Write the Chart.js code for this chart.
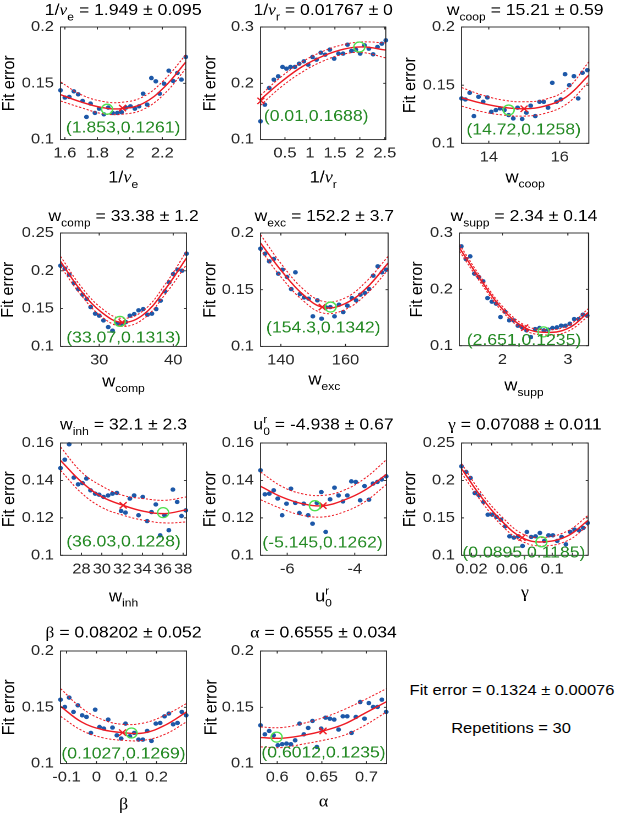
<!DOCTYPE html>
<html>
<head>
<meta charset="utf-8">
<script src="https://cdn.jsdelivr.net/npm/chart.js@4.4.1/dist/chart.umd.min.js"></script>
<style>
html, body { margin: 0; padding: 0; background: #fff; overflow: hidden; width: 617px; height: 815px; }
.panel { position: absolute; transform: scaleX(1.1); transform-origin: 0 0; }
.panel canvas { display: block; }
.note { position: absolute; white-space: nowrap; font: 15px "Liberation Sans", Arial, sans-serif; color: #000; transform: translate(-50%, -50%) scaleX(1.1); }
</style>
</head>
<body>
<div class="note" style="left:511.7px; top:689px;">Fit error = 0.1324 ± 0.00076</div>
<div class="note" style="left:511px; top:727px;">Repetitions = 30</div>
<script>
// ---- data ----
const p1X = [1.573,1.600,1.627,1.655,1.682,1.709,1.733,1.758,1.785,1.811,1.840,1.867,1.894,1.923,1.949,1.976,2.004,2.031,2.057,2.082,2.107,2.133,2.160,2.184,2.211,2.240,2.267,2.293,2.318,2.345];
const p1Y = [0.1438,0.1373,0.1379,0.1429,0.1402,0.1343,0.1201,0.1320,0.1237,0.1275,0.1225,0.1284,0.1237,0.1237,0.1243,0.1284,0.1296,0.1275,0.1296,0.1408,0.1311,0.1547,0.1518,0.1408,0.1497,0.1612,0.1521,0.1592,0.1533,0.1734];
const p1FitX = [1.573,1.70,1.83,1.95,2.08,2.21,2.345];
const p1Fit = [0.1399,0.1334,0.1284,0.1275,0.1320,0.1462,0.1689];
const p1Up = [0.1512,0.1399,0.1340,0.1331,0.1379,0.1527,0.1754];
const p1Lo = [0.1343,0.1284,0.1231,0.1225,0.1266,0.1402,0.1630];

const p2X = [0.010,0.097,0.184,0.277,0.364,0.451,0.531,0.611,0.698,0.784,0.878,0.965,1.051,1.131,1.218,1.305,1.398,1.485,1.572,1.665,1.752,1.832,1.919,2.006,2.093,2.180,2.266,2.353,2.440,2.520];
const p2Y = [0.1325,0.1621,0.1917,0.2065,0.2124,0.2290,0.2260,0.2290,0.2290,0.2349,0.2391,0.2331,0.2467,0.2420,0.2544,0.2509,0.2598,0.2438,0.2527,0.2527,0.2686,0.2574,0.2598,0.2527,0.2675,0.2615,0.2515,0.2645,0.2704,0.2763];
const p2FitX = [0.01,0.43,0.845,1.265,1.685,2.066,2.52];
const p2Fit = [0.1710,0.2030,0.2296,0.2485,0.2608,0.2645,0.2590];
const p2Up = [0.1787,0.2120,0.2380,0.2570,0.2690,0.2735,0.2716];
const p2Lo = [0.1610,0.1940,0.2200,0.2395,0.2520,0.2545,0.2450];

const p3X = [13.23,13.34,13.46,13.58,13.71,13.84,13.96,14.07,14.20,14.32,14.44,14.56,14.69,14.81,14.94,15.06,15.18,15.31,15.43,15.55,15.67,15.79,15.91,16.03,16.15,16.27,16.40,16.52,16.64,16.78];
const p3Y = [0.1386,0.1377,0.1434,0.1234,0.1400,0.1357,0.1394,0.1271,0.1286,0.1300,0.1286,0.1243,0.1214,0.1306,0.1209,0.1263,0.1323,0.1234,0.1357,0.1357,0.1306,0.1520,0.1357,0.1377,0.1594,0.1500,0.1577,0.1386,0.1606,0.1629];
const p3FitX = [13.23,13.82,14.41,14.995,15.58,16.19,16.82];
const p3Fit = [0.1391,0.1343,0.1309,0.1297,0.1320,0.1400,0.1586];
const p3Up = [0.1480,0.1414,0.1371,0.1357,0.1377,0.1463,0.1700];
const p3Lo = [0.1320,0.1271,0.1243,0.1234,0.1257,0.1337,0.1529];

const p4X = [24.77,25.36,25.95,26.58,27.16,27.76,28.31,28.84,29.46,30.0,30.58,31.22,31.80,32.43,33.02,33.60,34.14,34.73,35.32,35.95,36.53,37.12,37.70,38.29,38.88,39.46,40.0,40.6,41.2,41.8];
const p4Y = [0.2068,0.2028,0.1949,0.1838,0.1759,0.1684,0.1627,0.1521,0.1433,0.1406,0.1344,0.1256,0.1208,0.1300,0.1300,0.1322,0.1406,0.1428,0.1477,0.1494,0.1419,0.1433,0.1494,0.1605,0.1728,0.1847,0.1957,0.2015,0.2002,0.2227];
const p4FitX = [24.77,27.6,30.45,33.1,35.95,38.88,41.8];
const p4Fit = [0.2125,0.1728,0.1441,0.1318,0.1419,0.1750,0.2169];
const p4Up = [0.2191,0.1785,0.1494,0.1371,0.1472,0.1816,0.2257];
const p4Lo = [0.2059,0.1671,0.1384,0.1265,0.1362,0.1684,0.2081];

const p5X = [133.7,135.1,136.4,137.8,139.2,140.5,141.9,143.2,144.5,145.9,147.2,148.6,149.9,151.3,152.6,154.0,155.3,156.6,158.0,159.3,160.6,162.0,163.3,164.6,166.0,167.3,168.6,170.0,171.3,172.6];
const p5Y = [0.1862,0.1818,0.1750,0.1771,0.1641,0.1676,0.1612,0.1506,0.1653,0.1462,0.1432,0.1421,0.1265,0.1406,0.1244,0.1344,0.1347,0.1265,0.1368,0.1303,0.1359,0.1426,0.1406,0.1456,0.1471,0.1506,0.1624,0.1706,0.1653,0.1676];
const p5FitX = [133.7,140.3,146.9,153.1,159.8,166.5,173.2];
const p5Fit = [0.1912,0.1662,0.1456,0.1344,0.1376,0.1515,0.1735];
const p5Up = [0.1985,0.1721,0.1506,0.1397,0.1426,0.1574,0.1794];
const p5Lo = [0.1853,0.1603,0.1403,0.1294,0.1324,0.1462,0.1676];

const p6X = [1.37,1.44,1.505,1.571,1.638,1.704,1.770,1.837,1.903,1.969,2.036,2.102,2.168,2.235,2.301,2.367,2.434,2.500,2.566,2.633,2.699,2.765,2.832,2.898,2.964,3.031,3.097,3.163,3.230,3.296];
const p6Y = [0.2763,0.2538,0.2586,0.2278,0.2219,0.2142,0.1846,0.1781,0.1746,0.1509,0.1604,0.1450,0.1450,0.1355,0.1325,0.1272,0.1154,0.1296,0.1314,0.1272,0.1284,0.1314,0.1325,0.1355,0.1355,0.1391,0.1473,0.1473,0.1550,0.1533];
const p6FitX = [1.342,1.67,2.0,2.34,2.65,2.99,3.316];
const p6Fit = [0.2734,0.2160,0.1650,0.1320,0.1237,0.1300,0.1592];
const p6Up = [0.2795,0.2210,0.1697,0.1365,0.1283,0.1350,0.1660];
const p6Lo = [0.2675,0.2110,0.1603,0.1275,0.1190,0.1250,0.1525];

const p7X = [25.94,26.36,26.79,27.25,27.67,28.10,28.49,28.89,29.35,29.74,30.17,30.62,31.05,31.48,31.90,32.33,32.76,33.18,33.61,34.03,34.46,34.89,35.31,35.74,36.17,36.59,36.99,37.41,37.84,38.26];
const p7Y = [0.1466,0.1511,0.1593,0.1415,0.1379,0.1386,0.1410,0.1347,0.1329,0.1324,0.1312,0.1320,0.1329,0.1333,0.1237,0.1228,0.1303,0.1320,0.1214,0.1312,0.1183,0.1231,0.1272,0.1107,0.1214,0.1134,0.1351,0.1285,0.1210,0.1240];
const p7FitX = [25.94,28.0,30.03,32.1,34.13,36.2,38.33];
const p7Fit = [0.1507,0.1392,0.1312,0.1267,0.1235,0.1223,0.1244];
const p7Up = [0.1579,0.1445,0.1369,0.1320,0.1303,0.1294,0.1312];
const p7Lo = [0.1454,0.1333,0.1255,0.1214,0.1187,0.1173,0.1178];

const p8X = [-6.79,-6.66,-6.53,-6.40,-6.28,-6.15,-6.02,-5.89,-5.76,-5.64,-5.51,-5.38,-5.25,-5.12,-4.99,-4.86,-4.73,-4.60,-4.48,-4.35,-4.22,-4.10,-3.97,-3.84,-3.71,-3.58,-3.46,-3.33,-3.20,-3.07];
const p8Y = [0.1454,0.1326,0.1329,0.1347,0.1303,0.1214,0.1276,0.1356,0.1280,0.1226,0.1276,0.1214,0.1169,0.1280,0.1338,0.1125,0.1299,0.1361,0.1320,0.1288,0.1320,0.1395,0.1392,0.1294,0.1370,0.1297,0.1383,0.1392,0.1405,0.1422];
const p8FitX = [-6.79,-6.17,-5.56,-4.94,-4.33,-3.71,-3.06];
const p8Fit = [0.1369,0.1312,0.1276,0.1265,0.1294,0.1347,0.1433];
const p8Up = [0.1445,0.1369,0.1329,0.1320,0.1347,0.1410,0.1511];
const p8Lo = [0.1297,0.1249,0.1214,0.1205,0.1231,0.1285,0.1379];

const p9X = [0.0101,0.0147,0.0190,0.0233,0.0276,0.0319,0.0362,0.0405,0.0448,0.0491,0.0534,0.0577,0.0620,0.0663,0.0706,0.0749,0.0792,0.0835,0.0878,0.0921,0.0964,0.1007,0.1050,0.1093,0.1136,0.1179,0.1222,0.1265,0.1308,0.1351];
const p9Y = [0.2188,0.2113,0.2033,0.1832,0.1801,0.1712,0.1543,0.1543,0.1512,0.1476,0.1387,0.1254,0.1236,0.1254,0.1125,0.1312,0.1245,0.1254,0.1298,0.1192,0.1267,0.1267,0.1192,0.1245,0.1147,0.1312,0.1343,0.1334,0.1365,0.1432];
const p9FitX = [0.0101,0.0309,0.0509,0.0701,0.0893,0.1146,0.1357];
const p9Fit = [0.2157,0.1757,0.1445,0.1236,0.1178,0.1254,0.1468];
const p9Up = [0.2224,0.1810,0.1503,0.1289,0.1236,0.1321,0.1534];
const p9Lo = [0.2099,0.1699,0.1387,0.1187,0.1125,0.1192,0.1401];

const p10X = [-0.12,-0.1056,-0.0911,-0.0767,-0.0622,-0.0478,-0.0333,-0.0189,-0.0044,0.0100,0.0244,0.0389,0.0533,0.0678,0.0822,0.0967,0.1111,0.1256,0.1400,0.1544,0.1689,0.1833,0.1978,0.2122,0.2267,0.2411,0.2556,0.2700,0.2844,0.2989];
const p10Y = [0.1568,0.1503,0.1586,0.1459,0.1518,0.1429,0.1414,0.1272,0.1479,0.1325,0.1311,0.1391,0.1320,0.1251,0.1222,0.1355,0.1243,0.1272,0.1213,0.1213,0.1290,0.1201,0.1355,0.1361,0.1420,0.1444,0.1349,0.1361,0.1459,0.1429];
const p10FitX = [-0.12,-0.05,0.0189,0.0867,0.1578,0.2278,0.3];
const p10Fit = [0.1509,0.1370,0.1302,0.1275,0.1272,0.1340,0.1459];
const p10Up = [0.1666,0.1494,0.1391,0.1349,0.1361,0.1429,0.1533];
const p10Lo = [0.1420,0.1296,0.1231,0.1207,0.1207,0.1260,0.1370];

const p11X = [0.5813,0.5862,0.5910,0.5959,0.6007,0.6056,0.6104,0.6153,0.6201,0.6250,0.6298,0.6347,0.6395,0.6444,0.6492,0.6541,0.6590,0.6638,0.6687,0.6735,0.6784,0.6832,0.6881,0.6929,0.6978,0.7026,0.7075,0.7123,0.7172,0.7220];
const p11Y = [0.1340,0.1260,0.1290,0.1251,0.1163,0.1172,0.1178,0.1172,0.1207,0.1355,0.1260,0.1317,0.1379,0.1148,0.1311,0.1408,0.1399,0.1391,0.1302,0.1420,0.1420,0.1272,0.1414,0.1547,0.1399,0.1538,0.1503,0.1503,0.1568,0.1459];
const p11FitX = [0.5813,0.6048,0.6280,0.6515,0.6746,0.6981,0.7224];
const p11Fit = [0.1231,0.1225,0.1249,0.1290,0.1349,0.1447,0.1550];
const p11Up = [0.1325,0.1320,0.1355,0.1408,0.1479,0.1568,0.1666];
const p11Lo = [0.1148,0.1142,0.1172,0.1207,0.1251,0.1340,0.1459];

// best estimate (red x) and minimum (green circle) per panel
const bestPts = [[1.955,0.1280],[0.01767,0.1688],[14.995,0.1297],[33.1,0.1318],[152.8,0.1347],[2.34,0.1320],[32.1,0.1267],[-4.94,0.1265],[0.0701,0.1236],[0.0867,0.1275],[0.6513,0.1290]];
const minPts = [[1.86,0.1270],[1.99,0.2645],[14.56,0.1286],[32.8,0.1331],[155.4,0.1347],[2.627,0.1245],[36.03,0.1228],[-5.18,0.1265],[0.0893,0.1180],[0.1167,0.1272],[0.5993,0.1235]];
const minNotes = ['(1.853,0.1261)','(0.01,0.1688)','(14.72,0.1258)','(33.07,0.1313)','(154.3,0.1342)','(2.651,0.1235)','(36.03,0.1228)','(-5.145,0.1262)','(0.0895,0.1185)','(0.1027,0.1269)','(0.6012,0.1235)'];
const titles = ['1/ν_{e} = 1.949 ± 0.095','1/ν_{r} = 0.01767 ± 0','w_{coop} = 15.21 ± 0.59','w_{comp} = 33.38 ± 1.2','w_{exc} = 152.2 ± 3.7','w_{supp} = 2.34 ± 0.14','w_{inh} = 32.1 ± 2.3','u^{r}_{0} = -4.938 ± 0.67','γ = 0.07088 ± 0.011','β = 0.08202 ± 0.052','α = 0.6555 ± 0.034'];
const xLabels = ['1/ν_{e}','1/ν_{r}','w_{coop}','w_{comp}','w_{exc}','w_{supp}','w_{inh}','u^{r}_{0}','γ','β','α'];
const xRanges = [[1.573,2.345],[0.01,2.52],[13.23,16.82],[24.77,41.8],[133.7,173.2],[1.342,3.316],[25.94,38.33],[-6.79,-3.06],[0.0101,0.1357],[-0.12,0.3],[0.5813,0.7224]];
const yRanges = [[0.1,0.2],[0.1,0.3],[0.1,0.2],[0.1,0.25],[0.1,0.2],[0.1,0.3],[0.1,0.16],[0.1,0.16],[0.1,0.25],[0.1,0.2],[0.1,0.2]];
const xTicks = [[1.6,1.8,2,2.2],[0.5,1,1.5,2,2.5],[14,16],[30,40],[140,160],[2,3],[28,30,32,34,36,38],[-6,-4],[0.02,0.04,0.06,0.08,0.1,0.12],[-0.1,0,0.1,0.2],[0.6,0.65,0.7]];
const p9TickLabels = ['0.02','','0.06','','0.1',''];
const yTicks = [[0.1,0.15,0.2],[0.1,0.2,0.3],[0.1,0.15,0.2],[0.1,0.15,0.2,0.25],[0.1,0.15,0.2],[0.1,0.2,0.3],[0.1,0.12,0.14,0.16],[0.1,0.12,0.14,0.16],[0.1,0.15,0.2,0.25],[0.1,0.15,0.2],[0.1,0.15,0.2]];

// ---- layout (page px) ----
const boxes = [
  [60.7,26.7,186,139.3],[260.7,26.7,386,139.3],[461.7,26.7,589,143],
  [60.7,233.3,186.7,346.7],[260.7,233.3,388.3,346.7],[459.3,233.3,588.3,346],
  [60.7,442.7,186.7,555],[260.7,442.7,386.7,555],[461,442.7,587.7,555],
  [60.7,650.7,186.7,763.3],[260.7,650.7,386.7,763.3]
];
const titleGap = [12,12,12,12,12,12,13.5,13.5,13.5,13.5,13.5];
const xlabelGap = [43,43,39,40,38,45,46,46,42,46,43];
const ylabelDist = [51,50,51,52,50,42,51,50,51,51,49];
const noteUp = [11.6,23,13.3,8.4,18.4,5.3,13.3,12.3,2.3,9.3,10.7];
const noteDx = [0,-7,-1.5,0,-1,0,0,-1,-1,0,0];

const SX = 1.1;
const LEFT = 60.5, TOP = 27, RIGHT = 13, EXTRA = 30, BOTTOM = 55;
const FONT = '"Liberation Sans", Arial, sans-serif';
const GREEK = '"Liberation Serif", "DejaVu Serif", serif';
const BLUE = '#1d58a8', RED = '#ee1b24', GREEN = '#4fe04f', GREEN_TEXT = '#248a24', INK = '#262626';

const panels = [
  [p1X,p1Y,p1FitX,p1Fit,p1Up,p1Lo],[p2X,p2Y,p2FitX,p2Fit,p2Up,p2Lo],[p3X,p3Y,p3FitX,p3Fit,p3Up,p3Lo],
  [p4X,p4Y,p4FitX,p4Fit,p4Up,p4Lo],[p5X,p5Y,p5FitX,p5Fit,p5Up,p5Lo],[p6X,p6Y,p6FitX,p6Fit,p6Up,p6Lo],
  [p7X,p7Y,p7FitX,p7Fit,p7Up,p7Lo],[p8X,p8Y,p8FitX,p8Fit,p8Up,p8Lo],[p9X,p9Y,p9FitX,p9Fit,p9Up,p9Lo],
  [p10X,p10Y,p10FitX,p10Fit,p10Up,p10Lo],[p11X,p11Y,p11FitX,p11Fit,p11Up,p11Lo]
];

// text with _{sub} and ^{sup}
function parseRich(s) {
  const out = [];
  let buf = '', i = 0;
  while (i < s.length) {
    const c = s[i];
    if ((c === '_' || c === '^') && s[i + 1] === '{') {
      if (buf) { out.push({t: buf, m: 'n'}); buf = ''; }
      const end = s.indexOf('}', i);
      out.push({t: s.slice(i + 2, end), m: c === '_' ? 'sub' : 'sup'});
      i = end + 1;
    } else { buf += c; i++; }
  }
  if (buf) out.push({t: buf, m: 'n'});
  return out;
}

function drawRich(ctx, s, size, cx, baseY, color) {
  const segs = parseRich(s);
  const pieces = [];
  let x = 0, supStart = 0;
  segs.forEach((seg, k) => {
    const sz = seg.m === 'n' ? size : Math.round(size * 0.68);
    const dy = seg.m === 'sub' ? size * 0.33 : seg.m === 'sup' ? -size * 0.4 : 0;
    let px = x;
    if (seg.m === 'sub' && k > 0 && segs[k - 1].m === 'sup') px = supStart;
    if (seg.m === 'sup') supStart = x;
    seg.t.match(/[\u0370-\u03ff]+|[^\u0370-\u03ff]+/g).forEach(run => {
      const greek = /[\u0370-\u03ff]/.test(run);
      const font = (run === 'ν' ? 'italic ' : '') + sz + 'px ' + (greek ? GREEK : FONT);
      ctx.font = font;
      pieces.push({run, font, x: px, dy});
      px += ctx.measureText(run).width;
    });
    x = Math.max(x, px);
  });
  const x0 = cx - x / 2;
  ctx.fillStyle = color;
  ctx.textAlign = 'left';
  ctx.textBaseline = 'alphabetic';
  pieces.forEach(p => { ctx.font = p.font; ctx.fillText(p.run, x0 + p.x, baseY + p.dy); });
}

const framePlugin = {
  id: 'frame',
  afterDraw(chart, args, o) {
    const {ctx, chartArea: a, scales} = chart;
    ctx.save();
    ctx.strokeStyle = INK;
    ctx.lineWidth = 0.9;
    ctx.strokeRect(a.left, a.top, a.right - a.left, a.bottom - a.top);
    ctx.beginPath();
    scales.x.ticks.forEach(t => {
      const px = scales.x.getPixelForValue(t.value);
      ctx.moveTo(px, a.bottom); ctx.lineTo(px, a.bottom - 2.5);
      ctx.moveTo(px, a.top); ctx.lineTo(px, a.top + 2.5);
    });
    scales.y.ticks.forEach(t => {
      const py = scales.y.getPixelForValue(t.value);
      ctx.moveTo(a.left, py); ctx.lineTo(a.left + 2.3, py);
      ctx.moveTo(a.right, py); ctx.lineTo(a.right - 2.3, py);
    });
    ctx.stroke();

    const mid = (a.left + a.right) / 2;
    drawRich(ctx, o.title, 16, mid, a.top - o.titleGap, '#000');
    drawRich(ctx, o.xlabel, 16.5, mid, a.bottom + o.xlabelGap, '#000');

    ctx.save();
    ctx.translate(o.ylabelX, (a.top + a.bottom) / 2);
    ctx.rotate(-Math.PI / 2);
    ctx.font = '16px ' + FONT;
    ctx.textAlign = 'center';
    ctx.textBaseline = 'middle';
    ctx.fillStyle = '#000';
    ctx.fillText('Fit error', 0, 0);
    ctx.restore();

    ctx.font = '16px ' + FONT;
    ctx.textAlign = 'center';
    ctx.textBaseline = 'middle';
    ctx.fillStyle = GREEN_TEXT;
    ctx.fillText(o.note, mid + o.noteDx, a.bottom - o.noteUp);
    ctx.restore();
  }
};

function lineSet(xs, ys, dash, width) {
  return {
    data: xs.map((x, k) => ({x, y: ys[k]})),
    showLine: true, pointRadius: 0, borderColor: RED, borderWidth: width,
    borderDash: dash, tension: 0.4, fill: false, clip: false
  };
}

panels.forEach((d, i) => {
  const [xs, ys, fitX, fit, up, lo] = d;
  const [L, T, R, B] = boxes[i];
  const wrap = document.createElement('div');
  wrap.className = 'panel';
  wrap.style.left = (L - LEFT) + 'px';
  wrap.style.top = (T - TOP) + 'px';
  const cv = document.createElement('canvas');
  const boxW = (R - L) / SX;
  const w = Math.ceil((LEFT + RIGHT + EXTRA) / SX + boxW);
  const h = Math.ceil(TOP + (B - T) + BOTTOM);
  cv.width = w;
  cv.height = h;
  wrap.appendChild(cv);
  document.body.appendChild(wrap);

  const xLab = i === 8 ? p9TickLabels : null;
  const tickFont = {family: FONT, size: 15};

  new Chart(cv.getContext('2d'), {
    type: 'scatter',
    data: {
      datasets: [
        {data: [{x: minPts[i][0], y: minPts[i][1]}], pointStyle: 'circle', pointRadius: 5,
         borderColor: GREEN, backgroundColor: 'rgba(0,0,0,0)', borderWidth: 1.3, clip: false},
        {data: [{x: bestPts[i][0], y: bestPts[i][1]}], pointStyle: 'crossRot', pointRadius: 4.5,
         borderColor: RED, borderWidth: 1.3, clip: false},
        lineSet(fitX, fit, [], 1.4),
        lineSet(fitX, up, [2, 1.6], 1),
        lineSet(fitX, lo, [2, 1.6], 1),
        {data: xs.map((x, k) => ({x, y: ys[k]})), pointRadius: 2.2, backgroundColor: BLUE,
         borderWidth: 0, clip: false}
      ]
    },
    options: {
      responsive: false,
      animation: false,
      devicePixelRatio: 2,
      events: [],
      layout: {padding: {top: TOP, left: 0, bottom: 0, right: w - LEFT / SX - boxW}},
      plugins: {
        legend: {display: false},
        tooltip: {enabled: false},
        frame: {
          title: titles[i], xlabel: xLabels[i], note: minNotes[i],
          titleGap: titleGap[i], xlabelGap: xlabelGap[i],
          ylabelX: (LEFT - ylabelDist[i]) / SX,
          noteUp: noteUp[i], noteDx: noteDx[i] / SX
        }
      },
      scales: {
        x: {
          type: 'linear', min: xRanges[i][0], max: xRanges[i][1],
          grid: {display: false, drawTicks: false}, border: {display: false},
          afterBuildTicks: s => { s.ticks = xTicks[i].map(v => ({value: v})); },
          afterFit: s => { s.height = h - TOP - (B - T); s.paddingLeft = 0; s.paddingRight = 0; },
          ticks: {
            autoSkip: false, maxRotation: 0, minRotation: 0, padding: 5,
            color: INK, font: tickFont,
            callback: (v, k) => xLab ? xLab[k] : String(v)
          }
        },
        y: {
          type: 'linear', min: yRanges[i][0], max: yRanges[i][1],
          grid: {display: false, drawTicks: false}, border: {display: false},
          afterBuildTicks: s => { s.ticks = yTicks[i].map(v => ({value: v})); },
          afterFit: s => { s.width = LEFT / SX; s.paddingTop = 0; s.paddingBottom = 0; },
          ticks: {
            autoSkip: false, padding: 6, color: INK, font: tickFont,
            callback: v => String(v)
          }
        }
      }
    },
    plugins: [framePlugin]
  });
});
</script>
</body>
</html>
